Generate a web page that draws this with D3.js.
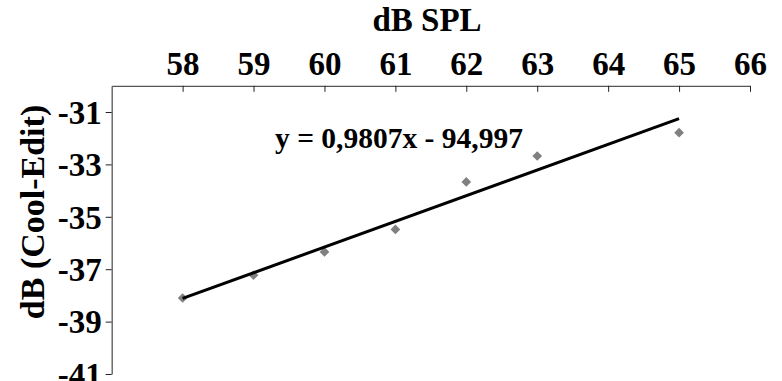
<!DOCTYPE html>
<html>
<head>
<meta charset="utf-8">
<script src="https://cdn.jsdelivr.net/npm/d3@7"></script>
<style>
  body { margin: 0; background: #fff; }
</style>
</head>
<body>
<svg></svg>
<script>
// values
var splValues = [58, 59, 60, 61, 62, 63, 65];
var coolEditValues = [-38.10, -37.23, -36.34, -35.48, -33.67, -32.68, -31.79];
var xTicks = [58, 59, 60, 61, 62, 63, 64, 65, 66];
var yTicks = [-41, -39, -37, -35, -33, -31];
var trendSlope = 0.9807;
var trendIntercept = -94.997;
var trendLabel = 'y = 0,9807x - 94,997';

var canvasWidth = 782;
var canvasHeight = 381;
var serif = "'Liberation Serif'";
var svg = d3.select('svg')
    .attr('width', canvasWidth)
    .attr('height', canvasHeight);

var xScale = d3.scaleLinear().domain([57, 66]).range([111.7, 750]);
var yScale = d3.scaleLinear().domain([-41, -30]).range([374, 85.8]);

// top x axis, ticks pointing down into the plot
var xAxis = svg.append('g')
    .attr('transform', 'translate(0,' + yScale(-30) + ')')
    .call(d3.axisTop(xScale)
        .tickValues(xTicks)
        .tickSizeInner(-6)
        .tickSizeOuter(0)
        .tickPadding(11)
        .tickFormat(function(d) { return String(d); }));

var yAxis = svg.append('g')
    .attr('transform', 'translate(' + xScale(57) + ',0)')
    .call(d3.axisLeft(yScale)
        .tickValues(yTicks)
        .tickSizeInner(6)
        .tickSizeOuter(0)
        .tickPadding(4)
        .tickFormat(function(d) { return String(d); }));

svg.selectAll('.domain').attr('stroke', '#555').attr('stroke-width', 1.3);
svg.selectAll('.tick line').attr('stroke', '#222').attr('stroke-width', 1);
svg.selectAll('.tick text')
    .style('font-family', serif)
    .style('font-weight', 'bold')
    .style('font-size', '33px')
    .attr('fill', '#000');
xAxis.selectAll('.tick text').attr('dy', '0em');
yAxis.selectAll('.tick text').attr('dy', '0.34em');

// axis titles
svg.append('text')
    .attr('x', 427)
    .attr('y', 31)
    .attr('text-anchor', 'middle')
    .style('font-family', serif)
    .style('font-weight', 'bold')
    .style('font-size', '33px')
    .text('dB SPL');

svg.append('text')
    .attr('transform', 'translate(44,212) rotate(-90)')
    .attr('text-anchor', 'middle')
    .style('font-family', serif)
    .style('font-weight', 'bold')
    .style('font-size', '34px')
    .text('dB (Cool-Edit)');

// data points
var diamond = d3.symbol().type(d3.symbolDiamond2).size(60);
svg.append('g').selectAll('path')
    .data(splValues)
    .enter()
    .append('path')
    .attr('d', diamond)
    .attr('transform', function(d, i) {
        return 'translate(' + xScale(d) + ',' + yScale(coolEditValues[i]) + ')';
    })
    .attr('fill', '#808080');

// linear trendline over the data range
var xMin = d3.min(splValues);
var xMax = d3.max(splValues);
svg.append('line')
    .attr('x1', xScale(xMin))
    .attr('y1', yScale(trendSlope * xMin + trendIntercept))
    .attr('x2', xScale(xMax))
    .attr('y2', yScale(trendSlope * xMax + trendIntercept))
    .attr('stroke', '#000')
    .attr('stroke-width', 3);

svg.append('text')
    .attr('x', 275)
    .attr('y', 148)
    .style('font-family', serif)
    .style('font-weight', 'bold')
    .style('font-size', '29.5px')
    .text(trendLabel);
</script>
</body>
</html>
